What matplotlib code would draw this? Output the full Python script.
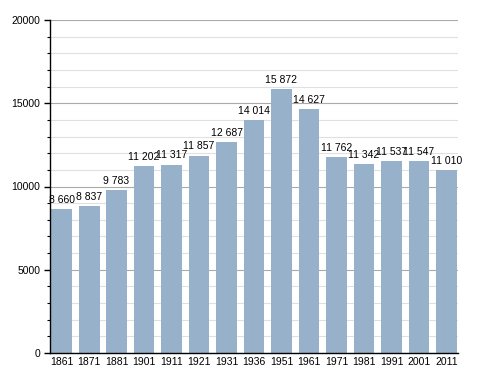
import matplotlib
matplotlib.use("Agg")
import matplotlib.pyplot as plt
from matplotlib.ticker import MultipleLocator

plt.rcParams['font.family'] = ['Liberation Sans', 'DejaVu Sans']

years = ["1861", "1871", "1881", "1901", "1911", "1921", "1931", "1936",
         "1951", "1961", "1971", "1981", "1991", "2001", "2011"]
population = [8660, 8837, 9783, 11202, 11317, 11857, 12687, 14014,
              15872, 14627, 11762, 11342, 11537, 11547, 11010]

fig = plt.figure(figsize=(4.88, 3.73), dpi=100)
ax = fig.add_axes([0.1025, 0.0536, 0.836, 0.8928])

x = list(range(len(years)))
ax.bar(x, population, width=0.76, color="#97b1cb", zorder=2)

for xi, v in zip(x, population):
    s = f"{v:,}".replace(",", " ")
    ax.text(xi, v + 250, s, ha="center", va="bottom", fontsize=7.5, color="black", zorder=3)

ax.set_xlim(-0.42, len(years) - 1 + 0.42)
ax.set_ylim(0, 20000)
ax.set_xticks(x)
ax.set_xticklabels(years, fontsize=7.5)
ax.tick_params(axis="x", length=0, pad=3)

ax.yaxis.set_major_locator(MultipleLocator(5000))
ax.yaxis.set_minor_locator(MultipleLocator(1000))
ax.tick_params(axis="y", which="major", length=4, width=1, labelsize=7.5, pad=3)
ax.tick_params(axis="y", which="minor", length=2.5, width=0.8)
ax.yaxis.grid(True, which="major", color="#aaaaaa", linewidth=0.8, zorder=0)
ax.yaxis.grid(True, which="minor", color="#e0e0e0", linewidth=0.8, zorder=0)
ax.set_axisbelow(True)

for side in ["top", "right"]:
    ax.spines[side].set_visible(False)
ax.spines["left"].set_color("black")
ax.spines["bottom"].set_color("black")
ax.spines["left"].set_linewidth(1)
ax.spines["bottom"].set_linewidth(1)

fig.savefig("out.png", dpi=100, facecolor="white")
